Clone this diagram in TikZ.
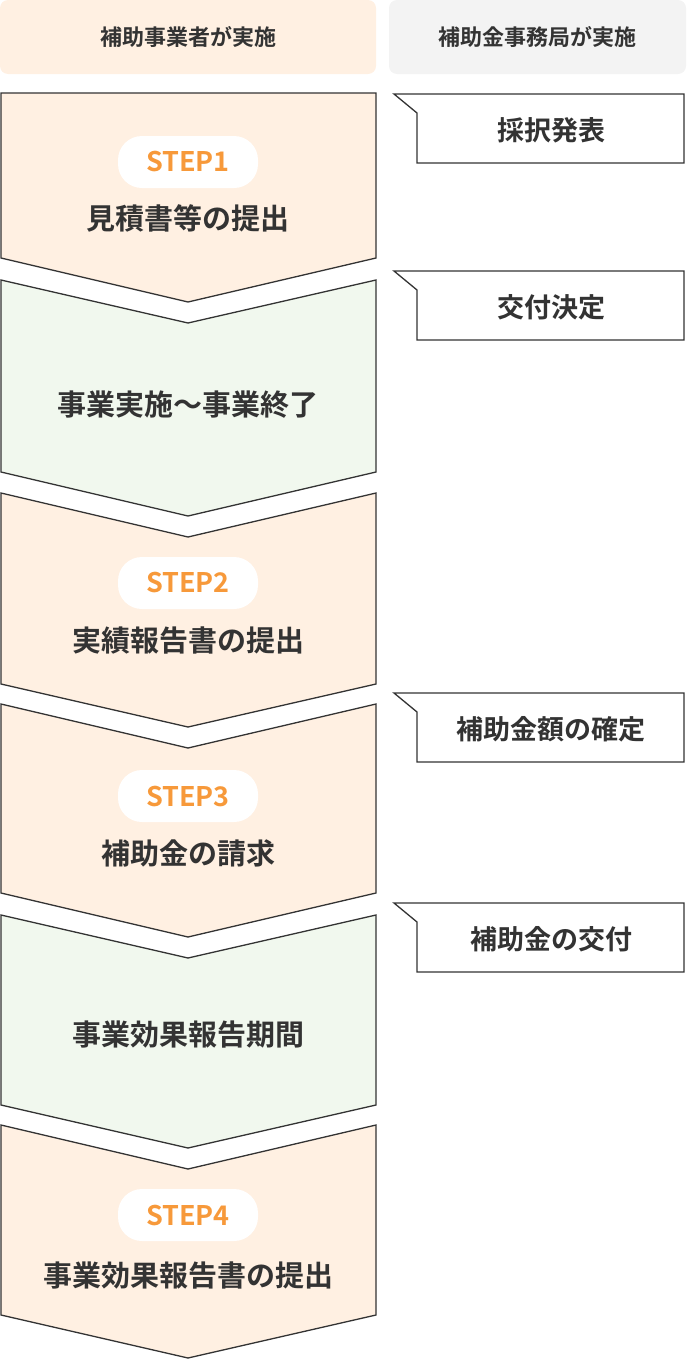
\documentclass[tikz,border=0pt]{standalone}
\usepackage{fontspec}
\setmainfont{Noto Sans CJK JP}[BoldFont={* Bold}]
\definecolor{ink}{HTML}{333333}
\definecolor{orfill}{HTML}{FFF0E2}
\definecolor{grfill}{HTML}{F1F8EE}
\definecolor{hdgray}{HTML}{F3F3F3}
\definecolor{steporange}{HTML}{F7993A}
\begin{document}
\begin{tikzpicture}[x=1pt,y=-1pt,
  chev/.style={draw=ink,line width=1.3pt,line join=miter},
  ttl/.style={font=\fontsize{29}{32}\selectfont\bfseries,text=ink},
  pill/.style={fill=white,rounded corners=24pt,minimum width=140pt,minimum height=52pt,inner sep=0pt,font=\fontsize{27}{30}\selectfont\bfseries,text=steporange},
  hdr/.style={rounded corners=8pt,inner sep=0pt,font=\fontsize{22}{26}\selectfont\bfseries,text=ink},
  call/.style={draw=ink,line width=1.3pt,fill=white},
  ctx/.style={font=\fontsize{27}{30}\selectfont\bfseries,text=ink}]
\useasboundingbox (0,0) rectangle (686,1360);
% headers
\node[hdr,fill=orfill,minimum width=376pt,minimum height=74pt] (h1) at (188,37) {補助事業者が実施};
\node[hdr,fill=hdgray,minimum width=297pt,minimum height=74pt] (h2) at (537.5,37) {補助金事務局が実施};
% chevrons
\draw[chev,fill=orfill] (1,93) -- (376,93) -- (376,258) -- (188,302) -- (1,258) -- cycle;
\draw[chev,fill=grfill] (1,280) -- (188,323) -- (376,280) -- (376,472) -- (188,516) -- (1,472) -- cycle;
\draw[chev,fill=orfill] (1,493) -- (188,537) -- (376,493) -- (376,684) -- (188,727) -- (1,684) -- cycle;
\draw[chev,fill=orfill] (1,704) -- (188,748) -- (376,704) -- (376,893) -- (188,937) -- (1,893) -- cycle;
\draw[chev,fill=grfill] (1,915) -- (188,958) -- (376,915) -- (376,1105) -- (188,1148) -- (1,1105) -- cycle;
\draw[chev,fill=orfill] (1,1125) -- (188,1169) -- (376,1125) -- (376,1315) -- (188,1358) -- (1,1315) -- cycle;
% texts
\node[pill] (s1) at (188,162) {STEP1};
\node[ttl] (t1) at (188,218) {見積書等の提出};
\node[ttl] (t2) at (188,405) {事業実施～事業終了};
\node[pill] (s2) at (188,583) {STEP2};
\node[ttl] (t3) at (188,640) {実績報告書の提出};
\node[pill] (s3) at (188,796) {STEP3};
\node[ttl] (t4) at (188,853) {補助金の請求};
\node[ttl] (t5) at (188,1035) {事業効果報告期間};
\node[pill] (s4) at (188,1215) {STEP4};
\node[ttl] (t6) at (188,1275) {事業効果報告書の提出};
% callouts
\foreach \yt/\txt/\nm in {93/採択発表/c1, 270/交付決定/c2, 692/補助金額の確定/c3, 902/補助金の交付/c4}{
  \draw[call] (394,\yt+1) -- (684,\yt+1) -- (684,\yt+70) -- (417,\yt+70) -- (417,\yt+20) -- cycle;
  \node[ctx] (\nm) at (551,\yt+37) {\txt};
}
\end{tikzpicture}
\end{document}
